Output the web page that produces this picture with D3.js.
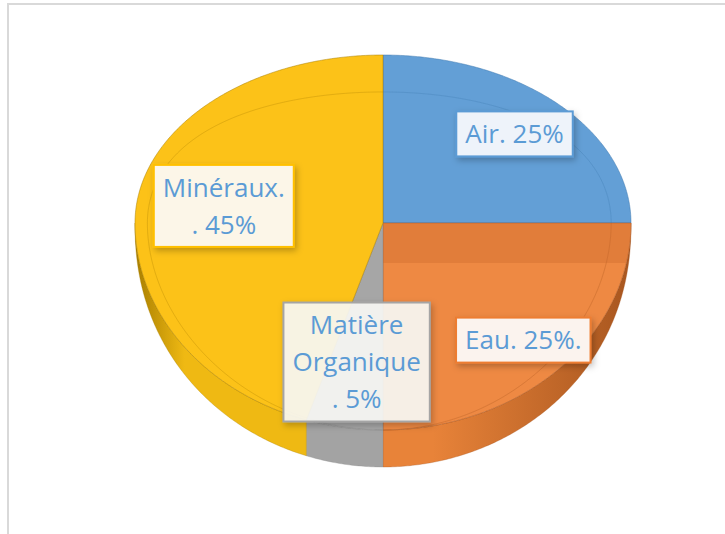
<!DOCTYPE html>
<html>
  <head>
    <meta charset="utf-8">
    <script src="https://cdn.jsdelivr.net/npm/d3@7"></script>
    <style>
      body { margin: 0; background: #fff; }
    </style>
  </head>
  <body>
    <script>
      // soil composition, clockwise from 12 o'clock
      var categories = ["Air", "Eau", "Matière Organique", "Minéraux"];
      var values = [25, 25, 5, 45];
      var labelLines = [["Air. 25%"], ["Eau. 25%."], ["Matière", "Organique", ". 5%"], ["Minéraux.", ". 45%"]];

      var topColors = ["#639fd6", "#ee8943", "#a6a6a6", "#fcc218"];
      var sideDark = ["#3f79b0", "#a8561f", "#8a8a8a", "#a87e00"];
      var sideLight = ["#5b93c8", "#e88339", "#a3a3a3", "#efb913"];
      var boxFill = ["#eef3fa", "#fbf3ee", "rgba(250,249,246,0.9)", "#fcf6e8"];
      var boxStroke = ["#5b9bd5", "#ed7d31", "#a5a5a5", "#ffc000"];
      var labelRadius = [0.75, 0.8, 0.68, 0.65];

      var w = 725, h = 534;
      var cx = 383, cy = 223;
      var rx = 248, ryBack = 168, ryFront = 207, depth = 37;

      var svg = d3.select("body").append("svg")
        .attr("width", w)
        .attr("height", h);

      var defs = svg.append("defs");
      var shadow = defs.append("filter").attr("id", "shadow")
        .attr("x", "-20%").attr("y", "-20%").attr("width", "140%").attr("height", "150%");
      shadow.append("feDropShadow")
        .attr("dx", 2).attr("dy", 3).attr("stdDeviation", 3)
        .attr("flood-color", "#000").attr("flood-opacity", 0.25);

      // chart frame
      svg.append("rect")
        .attr("x", 8).attr("y", 4)
        .attr("width", 740).attr("height", 560)
        .attr("fill", "none")
        .attr("stroke", "#d9d9d9")
        .attr("stroke-width", 2);

      // projected point on the pie rim (theta clockwise from 12 o'clock)
      function rim(theta, k) {
        k = k || 1;
        var c = Math.cos(theta);
        var ry = c > 0 ? ryBack : ryFront;
        return [cx + rx * k * Math.sin(theta), cy - ry * k * c];
      }
      // same rim point, dropped to the bottom of the wall (thinner at the sides)
      function rimBottom(theta) {
        var p = rim(theta);
        var f = Math.pow(Math.max(0, -Math.cos(theta)), 0.6);
        return [p[0], p[1] + depth * f];
      }
      function samples(a0, a1) {
        var n = Math.max(2, Math.ceil((a1 - a0) / 0.01));
        return d3.range(n + 1).map(function(i) { return a0 + (a1 - a0) * i / n; });
      }
      var line = d3.line();

      var pie = d3.pie().sort(null).startAngle(0).endAngle(2 * Math.PI);
      var arcs = pie(values);

      // side walls (front half only)
      arcs.forEach(function(d, i) {
        var a0 = Math.max(d.startAngle, Math.PI / 2);
        var a1 = Math.min(d.endAngle, 3 * Math.PI / 2);
        if (a1 <= a0) return;
        var gid = "side" + i;
        var g = defs.append("linearGradient").attr("id", gid)
          .attr("gradientUnits", "userSpaceOnUse")
          .attr("x1", cx - rx).attr("x2", cx + rx).attr("y1", 0).attr("y2", 0);
        if (i === 3) {
          g.append("stop").attr("offset", 0).attr("stop-color", sideDark[i]);
          g.append("stop").attr("offset", 0.1).attr("stop-color", sideLight[i]);
          g.append("stop").attr("offset", 1).attr("stop-color", sideLight[i]);
        } else {
          g.append("stop").attr("offset", 0).attr("stop-color", sideLight[i]);
          g.append("stop").attr("offset", 0.6).attr("stop-color", sideLight[i]);
          g.append("stop").attr("offset", 1).attr("stop-color", sideDark[i]);
        }
        var ts = samples(a0, a1);
        var pts = ts.map(function(t) { return rim(t); })
          .concat(ts.slice().reverse().map(rimBottom));
        svg.append("path")
          .attr("d", line(pts) + "Z")
          .attr("fill", "url(#" + gid + ")")
          .attr("stroke", sideDark[i])
          .attr("stroke-opacity", 0.4)
          .attr("stroke-width", 0.8);
      });

      // top faces
      arcs.forEach(function(d, i) {
        var pts = [[cx, cy]].concat(samples(d.startAngle, d.endAngle).map(function(t) { return rim(t); }));
        svg.append("clipPath").attr("id", "clip" + i)
          .append("path").attr("d", line(pts) + "Z");
        svg.append("path")
          .attr("d", line(pts) + "Z")
          .attr("fill", topColors[i])
          .attr("stroke", sideDark[i])
          .attr("stroke-opacity", 0.5)
          .attr("stroke-width", 1);
        // bevel line inside the rim
        var inner = samples(d.startAngle, d.endAngle).map(function(t) {
          var c = Math.cos(t);
          var ky = c > 0 ? 0.78 + 0.14 * (1 - c) : 0.92 - 0.08 * c;
          var kx = Math.sin(t) < 0 ? 0.95 : 0.92;
          return [cx + rx * kx * Math.sin(t), cy - (c > 0 ? ryBack : ryFront) * ky * c];
        });
        svg.append("path")
          .attr("d", line(inner))
          .attr("fill", "none")
          .attr("stroke", sideDark[i])
          .attr("stroke-opacity", 0.3)
          .attr("stroke-width", 1)
          .attr("clip-path", "url(#clip" + i + ")");
      });

      // darker band under the Air/Eau edge
      svg.append("rect")
        .attr("x", cx).attr("y", cy)
        .attr("width", rx + 10).attr("height", 40)
        .attr("fill", "#c8672a")
        .attr("opacity", 0.35)
        .attr("clip-path", "url(#clip1)");

      // data labels
      var fontSize = 26, lineH = 37, padX = 9, padY = 4;
      arcs.forEach(function(d, i) {
        var mid = (d.startAngle + d.endAngle) / 2;
        var p = rim(mid, labelRadius[i]);
        var g = svg.append("g").attr("transform", "translate(" + p[0] + "," + p[1] + ")");
        var box = g.append("rect");
        var txt = g.append("text")
          .attr("text-anchor", "middle")
          .attr("font-family", "'Open Sans', sans-serif")
          .attr("font-size", fontSize + "px")
          .attr("fill", "#5b9bd5");
        var lines = labelLines[i];
        lines.forEach(function(s, j) {
          txt.append("tspan")
            .attr("x", 0)
            .attr("y", (j - (lines.length - 1) / 2) * lineH)
            .attr("dy", "0.36em")
            .text(s);
        });
        var bw = txt.node().getBBox().width + 2 * padX;
        var bh = lines.length * lineH + 2 * padY;
        box.attr("x", -bw / 2).attr("y", -bh / 2)
          .attr("width", bw).attr("height", bh)
          .attr("fill", boxFill[i])
          .attr("stroke", boxStroke[i])
          .attr("stroke-width", 2)
          .attr("filter", "url(#shadow)");
      });
    </script>
  </body>
</html>
